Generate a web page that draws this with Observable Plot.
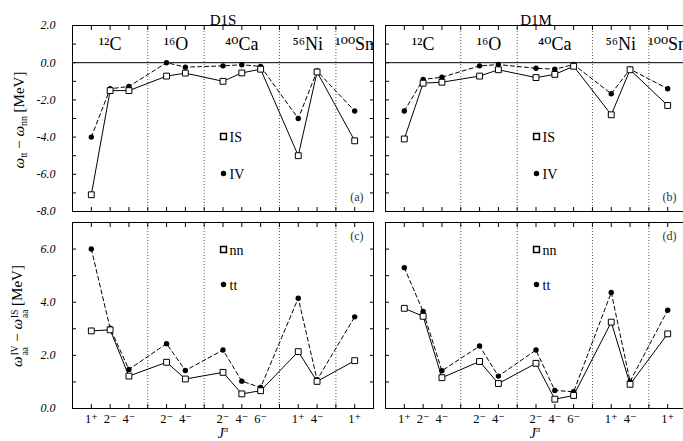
<!DOCTYPE html>
<html>
<head>
<meta charset="utf-8">
<script src="https://cdn.jsdelivr.net/npm/d3@7"></script>
<script src="https://cdn.jsdelivr.net/npm/@observablehq/plot@0.6"></script>
<style>
  html, body { margin: 0; padding: 0; background: #fff; overflow: hidden; }
  #wrap { position: relative; width: 683px; height: 441px; overflow: hidden; font-family: "Liberation Serif", "DejaVu Serif", serif; color: #000; }
  .pnl { position: absolute; }
  .ylab { position: absolute; white-space: nowrap; font-size: 15px; transform: translate(-50%, -50%) rotate(-90deg); }
  .ylab i { font-style: italic; }
  .ss { display: inline-flex; flex-direction: column; font-size: 0.62em; line-height: 1.05; vertical-align: 0.38em; margin-left: 1px; }
  .sub { font-size: 0.65em; vertical-align: -0.35em; }
  .xlab { position: absolute; font-size: 14px; line-height: 1; font-style: italic; transform: translate(-50%, 0); white-space: nowrap; }
  .xlab sup { font-size: 0.6em; font-style: italic; line-height: 0; }
</style>
</head>
<body>
<div id="wrap"></div>
<script>
// ---- data ----
const positions = [1, 2, 3, 5, 6, 8, 9, 10, 12, 13, 15];
const jpiLabels = ["1⁺", "2⁻", "4⁻", "2⁻", "4⁻", "2⁻", "4⁻", "6⁻", "1⁺", "4⁻", "1⁺"];
const nuclei = ["¹²C", "¹⁶O", "⁴⁰Ca", "⁵⁶Ni", "¹⁰⁰Sn"];
const separators = [4, 7, 11, 14];
const groupBounds = [0, 4, 7, 11, 14, 16];

const d1sIS = [-7.1, -1.5, -1.5, -0.72, -0.56, -1.0, -0.55, -0.35, -5.0, -0.5, -4.2];
const d1sIV = [-4.0, -1.4, -1.28, 0.0, -0.24, -0.17, -0.11, -0.2, -3.0, -0.45, -2.6];
const d1mIS = [-4.1, -1.1, -1.05, -0.72, -0.38, -0.8, -0.63, -0.19, -2.8, -0.38, -2.3];
const d1mIV = [-2.6, -0.9, -0.78, -0.17, -0.1, -0.3, -0.35, -0.1, -1.67, -0.35, -1.4];

const d1sNN = [2.92, 2.96, 1.22, 1.74, 1.11, 1.36, 0.55, 0.67, 2.14, 1.02, 1.8];
const d1sTT = [6.0, 3.02, 1.47, 2.44, 1.43, 2.2, 1.03, 0.79, 4.15, 1.08, 3.45];
const d1mNN = [3.77, 3.47, 1.16, 1.77, 0.94, 1.7, 0.35, 0.49, 3.25, 0.91, 2.81];
const d1mTT = [5.3, 3.65, 1.42, 2.35, 1.22, 2.2, 0.68, 0.63, 4.37, 1.02, 3.7];

const topTicks = d3.range(-8, 3, 1);
const topTickLabels = [-8, -6, -4, -2, 0, 2];
const botTicks = d3.range(0, 8, 1);
const botTickLabels = [0, 2, 4, 6];
const xTicks = d3.range(1, 16, 1);

// ---- drawing ----
const FONT = "Liberation Serif, DejaVu Serif, serif";
const wrap = document.getElementById("wrap");

function series(vals) { return positions.map((p, i) => ({x: p, y: vals[i]})); }
function nucleiData() { return nuclei.map((n, i) => ({x: (groupBounds[i] + groupBounds[i + 1]) / 2, t: n})); }

function panel({left, top, width, height, mL, mR, mT, mB, yDomain, yTicks, yLabels, solid, dashed, legend, title, tag, tagTop, showYLabels, showXLabels, zeroLine, showNuclei}) {
  const marks = [
    Plot.ruleX(separators, {stroke: "#555", strokeDasharray: "1,2", strokeWidth: 1}),
  ];
  if (zeroLine) marks.push(Plot.ruleY([0], {stroke: "#000", strokeWidth: 1}));
  marks.push(
    Plot.line(series(dashed), {x: "x", y: "y", stroke: "#000", strokeWidth: 1, strokeDasharray: "4,3"}),
    Plot.line(series(solid), {x: "x", y: "y", stroke: "#000", strokeWidth: 1}),
    Plot.dot(series(dashed), {x: "x", y: "y", r: 2.7, fill: "#000", stroke: "none"}),
    Plot.dot(series(solid), {x: "x", y: "y", symbol: "square", r: 3.3, fill: "#fff", stroke: "#000", strokeWidth: 1}),
    // inward ticks
    Plot.axisX(xTicks, {anchor: "bottom", tickSize: -4, tickFormat: () => "", label: null}),
    Plot.axisX(xTicks, {anchor: "top", tickSize: -4, tickFormat: () => "", label: null}),
    Plot.axisY(yTicks, {anchor: "left", tickSize: -4, tickFormat: () => "", label: null}),
    Plot.axisY(yTicks, {anchor: "right", tickSize: -4, tickFormat: () => "", label: null}),
    Plot.frame({stroke: "#000", strokeWidth: 1})
  );
  if (showYLabels) marks.push(Plot.axisY(yLabels, {anchor: "left", tickSize: 0, tickPadding: 17, tickFormat: d => d.toFixed(1), fontStyle: "italic", fontSize: 12, label: null}));
  if (showXLabels) marks.push(Plot.axisX(positions, {anchor: "bottom", tickSize: 0, tickPadding: 6, tickFormat: (d) => jpiLabels[positions.indexOf(d)], fontSize: 12.5, label: null}));
  if (showNuclei) marks.push(Plot.text(nucleiData(), {x: "x", y: 1.0, text: "t", fontSize: 18, textAnchor: "middle", clip: true}));
  if (title) marks.push(Plot.text([title], {frameAnchor: "top", dy: -11, fontSize: 15}));
  // legend
  marks.push(
    Plot.dot([legend[0]], {frameAnchor: "top-left", dx: legend.dx, dy: legend.dy1, symbol: "square", r: 3.3, fill: "#fff", stroke: "#000"}),
    Plot.text([legend[0]], {frameAnchor: "top-left", dx: legend.dx + 6, dy: legend.dy1 - 4, text: d => d, textAnchor: "start", fontSize: 14, fill: "#000"}),
    Plot.dot([legend[1]], {frameAnchor: "top-left", dx: legend.dx, dy: legend.dy2, r: 2.7, fill: "#000"}),
    Plot.text([legend[1]], {frameAnchor: "top-left", dx: legend.dx + 6, dy: legend.dy2 - 4, text: d => d, textAnchor: "start", fontSize: 14, fill: "#000"})
  );
  marks.push(Plot.text([tag], {frameAnchor: tagTop ? "top-right" : "bottom-right", dx: -10, dy: tagTop ? 9 : -11, fontSize: 12, fill: "#333"}));

  const svg = Plot.plot({
    width, height,
    marginLeft: mL, marginRight: mR, marginTop: mT, marginBottom: mB,
    x: {domain: [0, 16], axis: null},
    y: {domain: yDomain, axis: null},
    style: {fontFamily: FONT, fontSize: "12px", color: "#000", background: "transparent", overflow: "visible"},
    marks
  });
  svg.classList.add("pnl");
  svg.style.left = left + "px";
  svg.style.top = top + "px";
  wrap.appendChild(svg);
}

const topLegend = Object.assign(["IS", "IV"], {dx: 151, dy1: 111, dy2: 148});
const botLegend = Object.assign(["nn", "tt"], {dx: 151, dy1: 27, dy2: 62});

panel({left: 0, top: 0, width: 380, height: 215, mL: 72, mR: 7, mT: 25, mB: 4, yDomain: [-8, 2], yTicks: topTicks, yLabels: topTickLabels,
  solid: d1sIS, dashed: d1sIV, legend: topLegend, title: "D1S", tag: "(a)", tagTop: false, showYLabels: true, showXLabels: false, zeroLine: true, showNuclei: true});
panel({left: 375, top: 0, width: 321, height: 215, mL: 10, mR: 10, mT: 25, mB: 4, yDomain: [-8, 2], yTicks: topTicks, yLabels: topTickLabels,
  solid: d1mIS, dashed: d1mIV, legend: topLegend, title: "D1M", tag: "(b)", tagTop: false, showYLabels: false, showXLabels: false, zeroLine: true, showNuclei: true});
panel({left: 0, top: 215, width: 380, height: 226, mL: 72, mR: 7, mT: 7, mB: 33, yDomain: [0, 7], yTicks: botTicks, yLabels: botTickLabels,
  solid: d1sNN, dashed: d1sTT, legend: botLegend, title: null, tag: "(c)", tagTop: true, showYLabels: true, showXLabels: true, zeroLine: false, showNuclei: false});
panel({left: 375, top: 215, width: 321, height: 226, mL: 10, mR: 10, mT: 7, mB: 33, yDomain: [0, 7], yTicks: botTicks, yLabels: botTickLabels,
  solid: d1mNN, dashed: d1mTT, legend: botLegend, title: null, tag: "(d)", tagTop: true, showYLabels: false, showXLabels: true, zeroLine: false, showNuclei: false});

// axis titles (HTML text)
function addHTML(cls, html, x, y) {
  const d = document.createElement("div");
  d.className = cls; d.innerHTML = html;
  d.style.left = x + "px"; d.style.top = y + "px";
  wrap.appendChild(d);
}
addHTML("ylab", '<i>ω</i><span class="sub">tt</span> − <i>ω</i><span class="sub">nn</span> [MeV]', 20, 120);
addHTML("ylab", '<i>ω</i><span class="ss"><span>IV</span><span>aa</span></span> − <i>ω</i><span class="ss"><span>IS</span><span>aa</span></span> [MeV]', 20, 316);
addHTML("xlab", 'J<sup>π</sup>', 223, 427);
addHTML("xlab", 'J<sup>π</sup>', 535, 427);
</script>
</body>
</html>
